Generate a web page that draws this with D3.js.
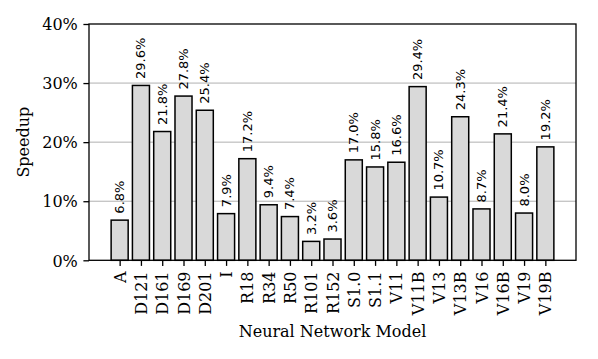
<!DOCTYPE html>
<html>
<head>
<meta charset="utf-8">
<script src="https://cdn.jsdelivr.net/npm/d3@7"></script>
<style>
  body { margin: 0; background: #fff; }
  .tickText { font-family: "DejaVu Serif", serif; font-size: 16px; fill: #000; }
  .barLabel { font-family: "DejaVu Sans", sans-serif; font-size: 13px; fill: #000; }
  .axisTitle { font-family: "DejaVu Serif", serif; font-size: 16px; fill: #000; }
</style>
</head>
<body>
<div id="chart"></div>
<script>
var models = ["A", "D121", "D161", "D169", "D201", "I", "R18", "R34", "R50", "R101", "R152",
              "S1.0", "S1.1", "V11", "V11B", "V13", "V13B", "V16", "V16B", "V19", "V19B"];
var speedups = [6.8, 29.6, 21.8, 27.8, 25.4, 7.9, 17.2, 9.4, 7.4, 3.2, 3.6,
                17.0, 15.8, 16.6, 29.4, 10.7, 24.3, 8.7, 21.4, 8.0, 19.2];
var yTicks = [0, 10, 20, 30, 40];
var gridTicks = [10, 20, 30];

/*
 * layout (edit as needed)
 */
var width = 598, height = 359;
var plot = {left: 89, right: 576, top: 24, bottom: 260.3};
var barWidth = 0.8; // in category units, like matplotlib
var tickLen = 5.6, tickPad = 5.6;

var svg = d3.select("#chart").append("svg")
  .attr("width", width)
  .attr("height", height);

// x is linear over category index so the outer margins match
var x = d3.scaleLinear()
  .domain([-0.4 - 0.05 * (models.length - 0.2), models.length - 0.6 + 0.05 * (models.length - 0.2)])
  .range([plot.left, plot.right]);
var y = d3.scaleLinear()
  .domain([0, 40])
  .range([plot.bottom, plot.top]);

//grid lines go behind bars
svg.append("g").selectAll("line")
  .data(gridTicks)
  .join("line")
    .attr("x1", plot.left).attr("x2", plot.right)
    .attr("y1", function(d) { return y(d); })
    .attr("y2", function(d) { return y(d); })
    .attr("stroke", "#b0b0b0")
    .attr("stroke-width", 1);

//bars
svg.append("g").selectAll("rect")
  .data(speedups)
  .join("rect")
    .attr("x", function(d, i) { return x(i - barWidth / 2); })
    .attr("width", x(barWidth) - x(0))
    .attr("y", function(d) { return y(d); })
    .attr("height", function(d) { return y(0) - y(d); })
    .attr("fill", "#d9d9d9")
    .attr("stroke", "#000")
    .attr("stroke-width", 1.5);

//value labels above bars
svg.append("g").selectAll("text")
  .data(speedups)
  .join("text")
    .attr("class", "barLabel")
    .attr("transform", function(d, i) { return "translate(" + x(i) + "," + (y(d) - 6.5) + ") rotate(-90)"; })
    .attr("dy", "0.35em")
    .attr("text-anchor", "start")
    .text(function(d) { return d.toFixed(1) + "%"; });

//axes
var xAxis = svg.append("g")
  .attr("transform", "translate(0," + plot.bottom + ")")
  .call(d3.axisBottom(x)
    .tickValues(d3.range(models.length))
    .tickFormat(function(i) { return models[i]; })
    .tickSize(tickLen)
    .tickPadding(tickPad)
    .tickSizeOuter(0));
xAxis.select(".domain").remove();
xAxis.selectAll(".tick line").attr("stroke", "#000").attr("stroke-width", 1.3);
xAxis.selectAll(".tick text")
  .attr("class", "tickText")
  .attr("text-anchor", "end")
  .attr("transform", "rotate(-90)")
  .attr("x", -(tickLen + tickPad))
  .attr("y", 0)
  .attr("dy", "0.35em");

var yAxis = svg.append("g")
  .attr("transform", "translate(" + plot.left + ",0)")
  .call(d3.axisLeft(y)
    .tickValues(yTicks)
    .tickFormat(function(d) { return d + "%"; })
    .tickSize(tickLen)
    .tickPadding(tickPad)
    .tickSizeOuter(0));
yAxis.select(".domain").remove();
yAxis.selectAll(".tick line").attr("stroke", "#000").attr("stroke-width", 1.3);
yAxis.selectAll(".tick text").attr("class", "tickText").attr("dy", "0.36em");

//box around plot area
svg.append("rect")
  .attr("x", plot.left)
  .attr("y", plot.top)
  .attr("width", plot.right - plot.left)
  .attr("height", plot.bottom - plot.top)
  .attr("fill", "none")
  .attr("stroke", "#000")
  .attr("stroke-width", 1.3);

//axis titles
svg.append("text")
  .attr("class", "axisTitle")
  .attr("transform", "translate(29," + ((plot.top + plot.bottom) / 2) + ") rotate(-90)")
  .attr("text-anchor", "middle")
  .text("Speedup");
svg.append("text")
  .attr("class", "axisTitle")
  .attr("x", (plot.left + plot.right) / 2)
  .attr("y", 337)
  .attr("text-anchor", "middle")
  .text("Neural Network Model");
</script>
</body>
</html>
